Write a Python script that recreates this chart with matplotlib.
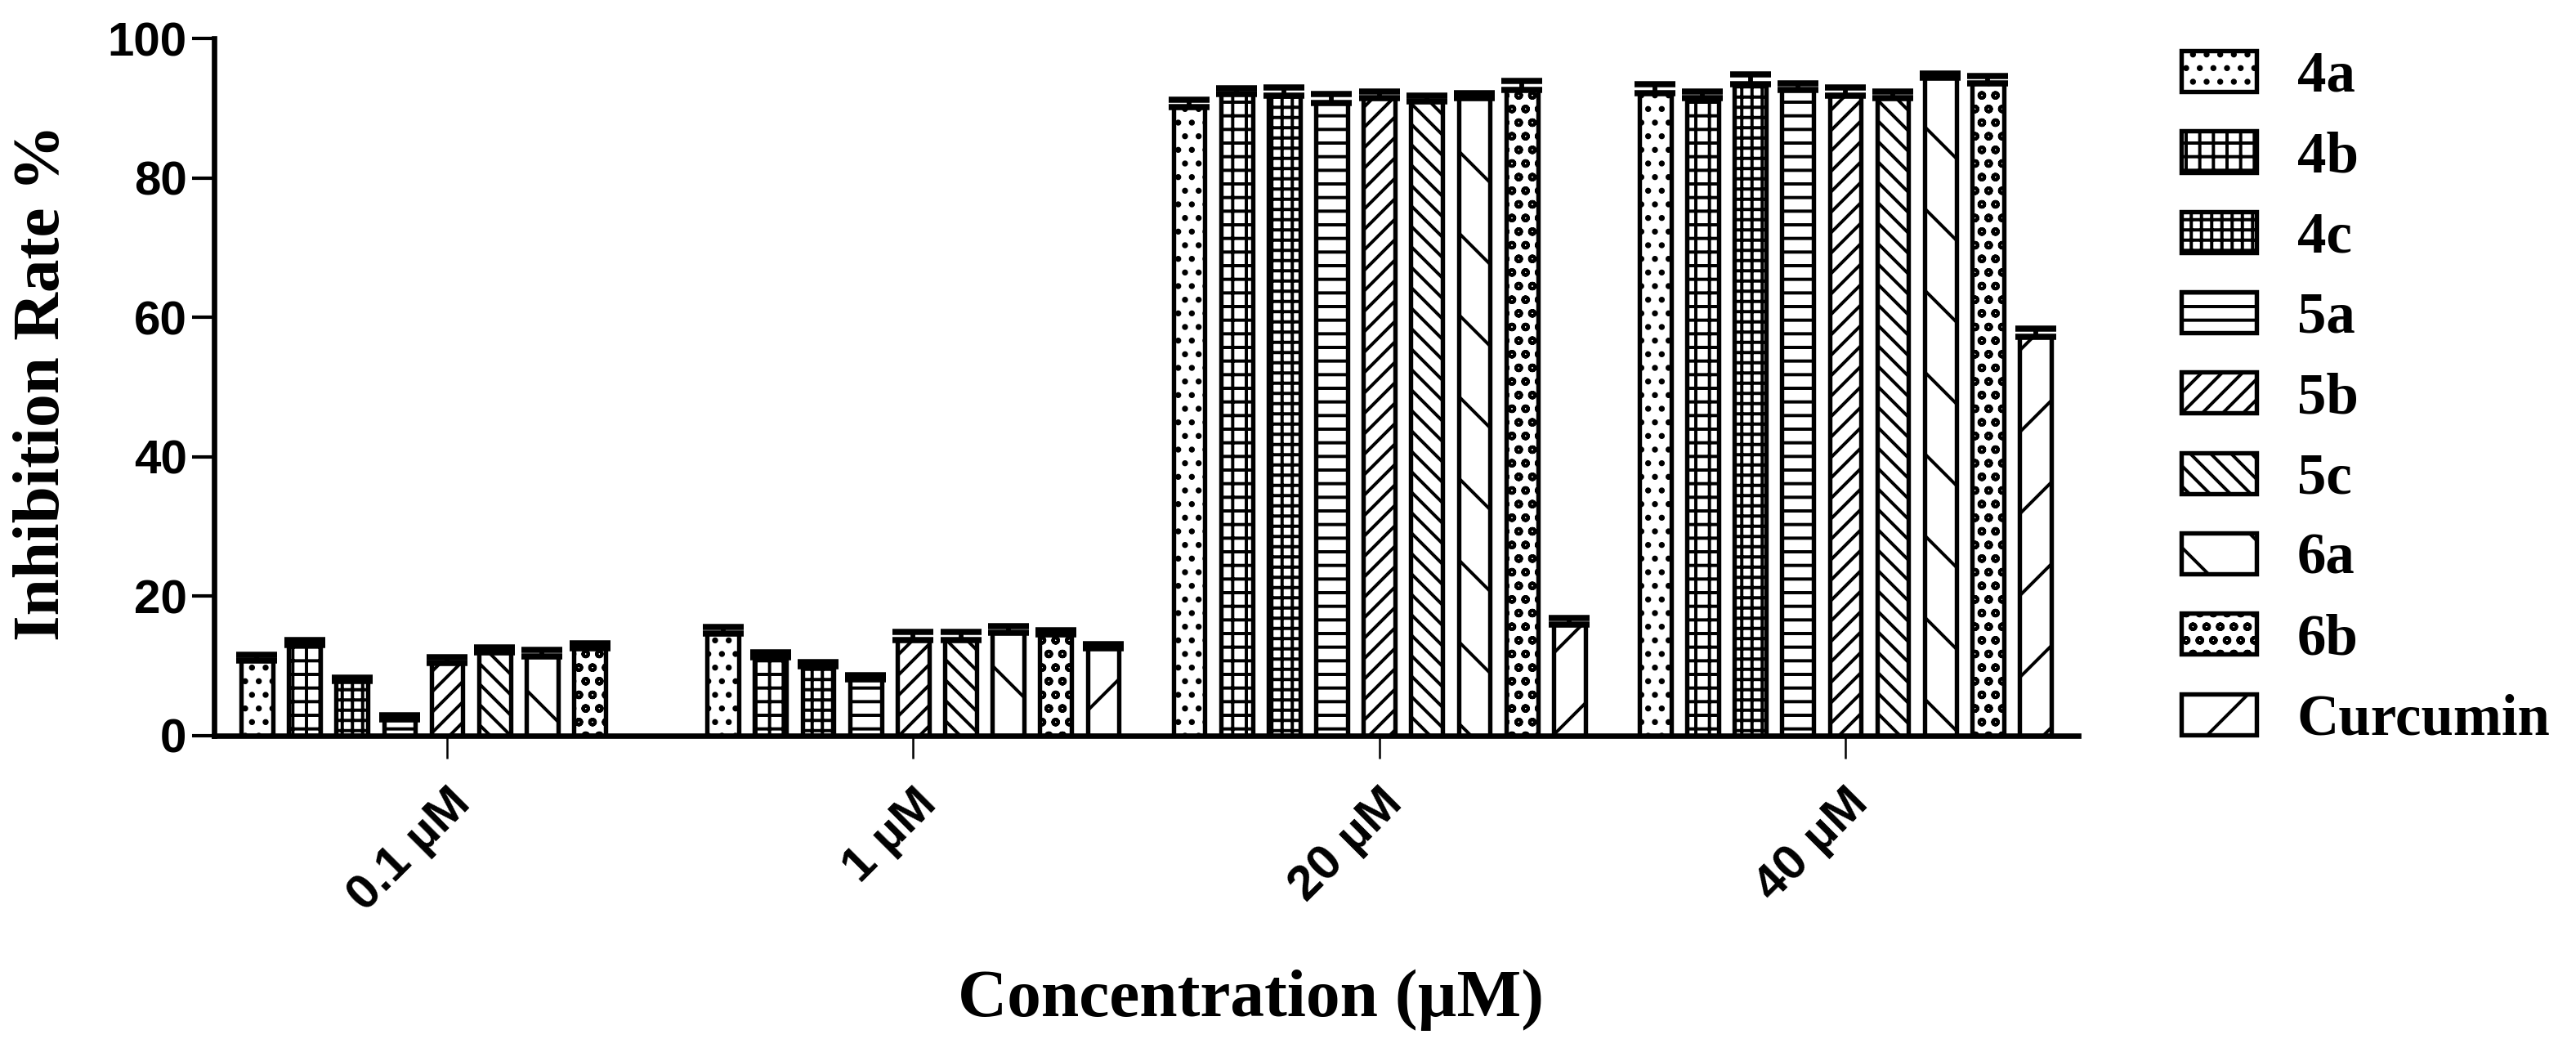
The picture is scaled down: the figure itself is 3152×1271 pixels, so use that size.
import numpy as np
import matplotlib
matplotlib.use('Agg')
from matplotlib import pyplot as plt
from matplotlib.patches import Patch

CONCENTRATIONS = ['0.1 µM', '1 µM', '20 µM', '40 µM']
COMPOUNDS = ['4a', '4b', '4c', '5a', '5b', '5c', '6a', '6b', 'Curcumin']

# inhibition rate (%) per concentration, one value per compound
rate_01 = [10.8, 13.0, 7.8, 2.4, 10.4, 12.0, 11.4, 12.6, np.nan]
rate_1 = [14.6, 11.2, 10.0, 8.1, 13.7, 13.7, 14.8, 14.5, 12.5]
rate_20 = [90.2, 92.0, 91.8, 90.8, 91.4, 91.0, 91.4, 92.6, 16.0]
rate_40 = [92.2, 91.4, 93.4, 92.6, 91.8, 91.4, 94.4, 93.6, 57.2]

err_01 = [0.8, 0.7, 0.5, 0.5, 0.9, 0.7, 0.9, 0.6, np.nan]
err_1 = [1.0, 0.7, 0.5, 0.6, 1.2, 1.2, 0.9, 0.6, 0.6]
err_20 = [1.0, 0.8, 1.2, 1.2, 1.0, 0.8, 0.8, 1.3, 0.9]
err_40 = [1.2, 1.0, 1.4, 1.0, 1.2, 1.0, 0.6, 1.0, 1.2]

HATCHES = ['...', '+++', '++++', '---', '////', '\\\\\\\\', '\\', 'ooo', '/']

DPI = 300
BAR_PITCH = 0.102
BAR_WIDTH = 0.068
EDGE_LW = 1.3

plt.rcParams['hatch.linewidth'] = 0.95

rates = np.array([rate_01, rate_1, rate_20, rate_40])
errs = np.array([err_01, err_1, err_20, err_40])

fig = plt.figure(figsize=(3152 / DPI, 1271 / DPI), dpi=DPI)
ax = fig.add_axes([0.0831, 0.2919, 0.7237, 0.6711])

group_x = np.arange(len(CONCENTRATIONS))
n = len(COMPOUNDS)
for i, (name, hatch) in enumerate(zip(COMPOUNDS, HATCHES)):
    x = group_x + (i - (n - 1) / 2) * BAR_PITCH
    vals = rates[:, i]
    e = errs[:, i]
    ax.bar(x, vals, BAR_WIDTH, color='white', edgecolor='black',
           hatch=hatch, linewidth=EDGE_LW, zorder=2)
    ax.errorbar(x, vals, yerr=[np.zeros_like(e), e], fmt='none', ecolor='black',
                elinewidth=1.4, capsize=6, capthick=1.8, zorder=3)

ax.set_xlim(-0.5, 3.5)
ax.set_ylim(0, 100)
ax.set_yticks([0, 20, 40, 60, 80, 100])
ax.set_xticks(group_x)
ax.set_xticklabels(CONCENTRATIONS, rotation=45, ha='right', va='top',
                   rotation_mode='anchor')

for side in ('top', 'right'):
    ax.spines[side].set_visible(False)
for side in ('left', 'bottom'):
    ax.spines[side].set_linewidth(1.6)

ax.tick_params(axis='y', length=6.5, width=1.0, pad=1.5, labelsize=14)
ax.tick_params(axis='x', length=6.7, width=0.6, pad=6.5, labelsize=14.5)
for lab in ax.get_xticklabels() + ax.get_yticklabels():
    lab.set_fontweight('bold')
    lab.set_family('Liberation Sans')

ax.set_ylabel('Inhibition Rate %', fontsize=19.5, fontweight='bold',
              family='Liberation Serif')
ax.yaxis.set_label_coords(-0.076, 0.507)
ax.set_xlabel('Concentration (µM)', fontsize=20, fontweight='bold',
              family='Liberation Serif')
ax.xaxis.set_label_coords(0.556, -0.335)

handles = [Patch(facecolor='white', edgecolor='black', hatch=h, linewidth=EDGE_LW)
           for h in HATCHES]
fig.legend(handles, COMPOUNDS, loc='upper left', bbox_to_anchor=(2669 / 3152, 1 - 62 / 1271),
           frameon=False, borderpad=0, borderaxespad=0, handlelength=1.3,
           handleheight=0.71, handletextpad=0.7, labelspacing=0.47,
           prop={'family': 'Liberation Serif', 'weight': 'bold', 'size': 17})

fig.savefig('out.png', dpi=DPI, facecolor='white')
